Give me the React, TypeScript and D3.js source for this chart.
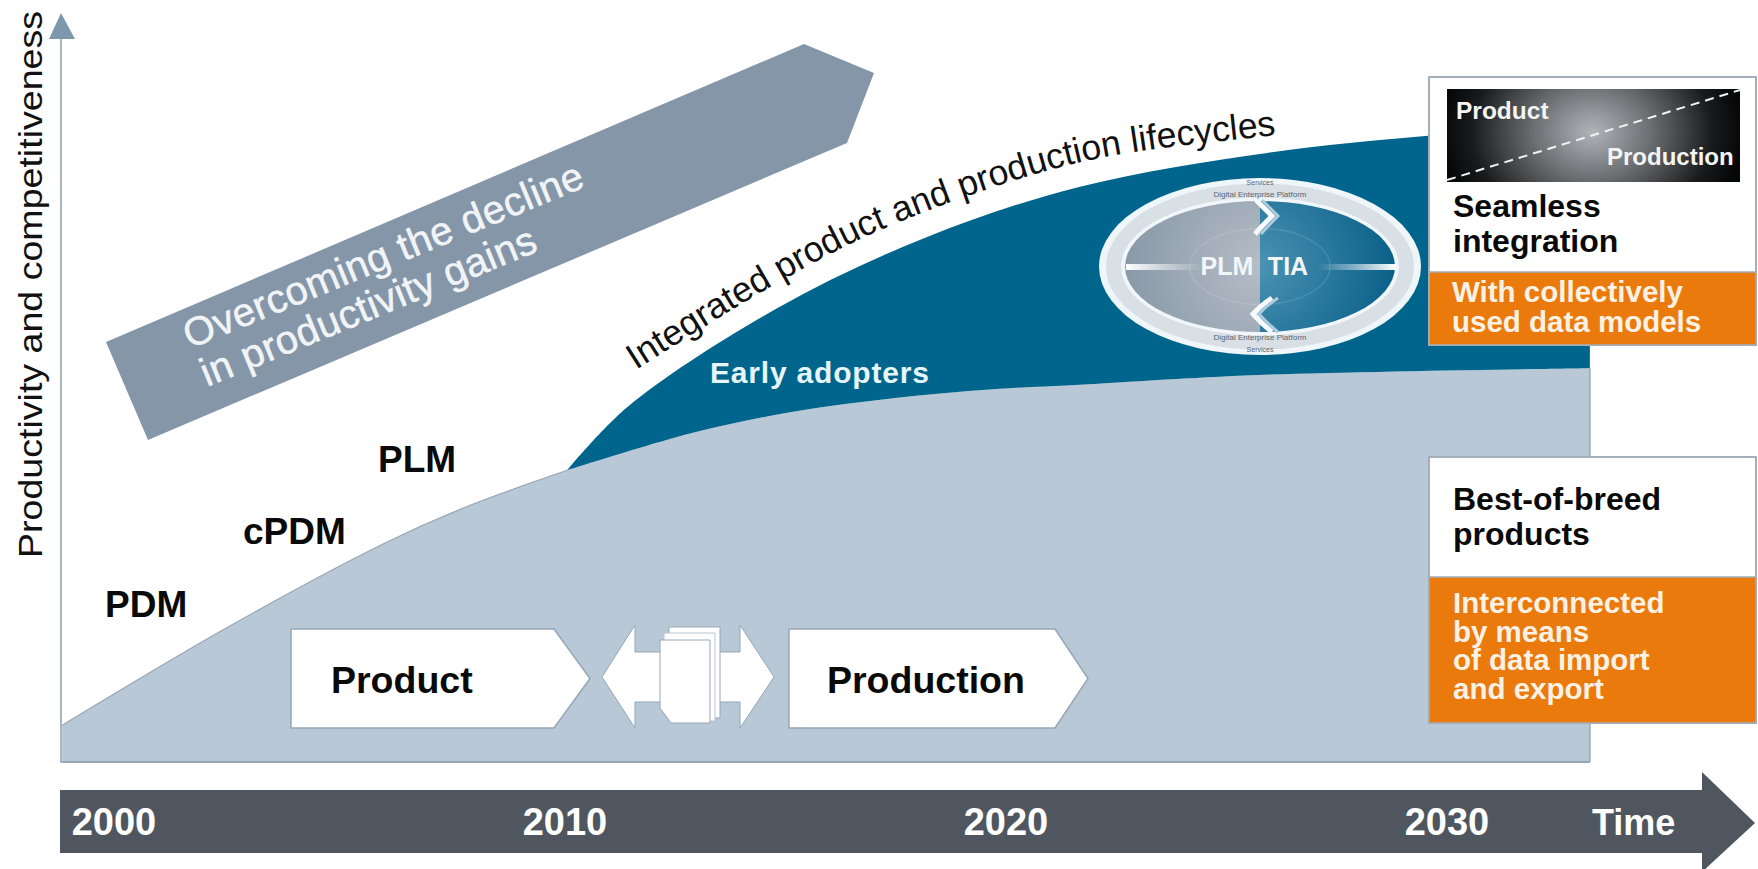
import React from "react";
import * as d3 from "d3";

const WIDTH = 1758;
const HEIGHT = 869;
const FONT = "'Liberation Sans', Arial, sans-serif";

// Time axis ticks and the productivity curves (year, index 0-100).
const timeTicks = [2000, 2010, 2020, 2030];
const baselineYears = [1998.85, 2002.53, 2006.01, 2007.8, 2010.05, 2012.9, 2015.17, 2017.44, 2019.71, 2021.68, 2025.71, 2033.24];
const baselineValues = [4.9, 18, 29.2, 34, 38.9, 43.9, 46.7, 48.5, 49.7, 50.3, 51.6, 52.5];
const integratedYears = [2010.05, 2011.41, 2014.81, 2018.21, 2021.68, 2025.92, 2029.57, 2033.24];
const integratedValues = [38.9, 47.3, 60.5, 70, 76.7, 81.2, 83.5, 84.9];
const captionYears = [2011.54, 2014.65, 2017.26, 2021.63, 2026.1, 2027.5];
const captionValues = [52, 63.3, 71.2, 79.9, 83.6, 84.6];

const generations = [
  { label: "PDM", x: 105, y: 617 },
  { label: "cPDM", x: 243, y: 544 },
  { label: "PLM", x: 378, y: 472 },
];

const COLORS = {
  base: "#B8C8D6",
  baseEdge: "#97A6B4",
  teal: "#00658C",
  orange: "#EB7A0D",
  dark: "#50565F",
  slate: "#8496A8",
  axis: "#7F97AD",
  ink: "#0A0A0A",
};

const x = d3.scaleLinear().domain(timeTicks).range([114, 565, 1006, 1447]);
const y = d3.scaleLinear().domain([0, 100]).range([762, 12]);

type Pt = [number, number];
const zip = (xs: number[], ys: number[]): Pt[] => xs.map((v, i) => [v, ys[i]]);
const baseline = zip(baselineYears, baselineValues);
const integrated = zip(integratedYears, integratedValues);
const caption = zip(captionYears, captionValues);

const curve = d3.line<Pt>().x((d) => x(d[0])).y((d) => y(d[1])).curve(d3.curveCatmullRom.alpha(0.5));
const baseArea = d3.area<Pt>().x((d) => x(d[0])).y0(y(0)).y1((d) => y(d[1])).curve(d3.curveCatmullRom.alpha(0.5));

const poly = (pts: Pt[]) => d3.line()(pts) + "Z";
// The band between the two curves: along the integrated curve, back along the baseline.
const bandPath = curve(integrated) + "L" + curve([...baseline.filter((d) => d[0] >= 2010.05)].reverse())!.slice(1) + "Z";

const Label = ({ x: lx, y: ly, size, fill = COLORS.ink, weight = 700, children }: any) => (
  <text x={lx} y={ly} fontSize={size} fontWeight={weight} fill={fill} fontFamily={FONT}>{children}</text>
);

const Pentagon = ({ left, right, tip, top, bottom, label, textX }: any) => (
  <g>
    <path d={poly([[left, top], [right, top], [tip, (top + bottom) / 2], [right, bottom], [left, bottom]])} fill="#FFFFFF" stroke="#97A6B4" strokeWidth={1.5} />
    <Label x={textX} y={693} size={37.5}>{label}</Label>
  </g>
);

// Lens badge with the PLM and TIA halves.
const Lens = () => {
  const cx = 1260, cy = 266.5;
  const rx = 135, ry = 65.5;
  const leftHalf = `M${cx},${cy - ry}A${rx},${ry} 0 0 0 ${cx},${cy + ry}Z`;
  const rightHalf = `M${cx},${cy - ry}A${rx},${ry} 0 0 1 ${cx},${cy + ry}Z`;
  return (
    <g>
      <ellipse cx={cx} cy={cy} rx={161} ry={88.5} fill="#EEF6FA" />
      <ellipse cx={cx} cy={cy} rx={154} ry={83} fill="#D8DFE5" />
      <ellipse cx={cx} cy={cy} rx={139} ry={69} fill="#F0F6FA" />
      <path d={leftHalf} fill="url(#plmFill)" />
      <path d={rightHalf} fill="url(#tiaFill)" />
      <ellipse cx={cx} cy={cy} rx={70} ry={38} fill="none" stroke="#FFFFFF" strokeOpacity={0.12} strokeWidth={1.5} />
      <rect x={1126} y={264} width={76} height={6} fill="url(#spokeLeft)" />
      <rect x={1318} y={264} width={78} height={6} fill="url(#spokeRight)" />
      <path d="M1256,200Q1268,212 1272,216Q1262,226 1255,234" fill="none" stroke="#F4FAFD" strokeWidth={5} />
      <path d="M1262,200Q1274,212 1278,216Q1268,226 1261,234" fill="none" stroke="#AFCBDC" strokeWidth={3} />
      <path d="M1272,298Q1260,306 1253,314Q1262,324 1272,332" fill="none" stroke="#F4FAFD" strokeWidth={5} />
      <path d="M1278,298Q1266,306 1259,314Q1268,324 1278,332" fill="none" stroke="#AFCBDC" strokeWidth={3} />
      <text x={1227} y={275} textAnchor="middle" fontSize={25} fontWeight={700} fill="#F2F6F9" fontFamily={FONT}>PLM</text>
      <text x={1288} y={275} textAnchor="middle" fontSize={25} fontWeight={700} fill="#F2F6F9" fontFamily={FONT}>TIA</text>
      <g textAnchor="middle" fontFamily={FONT} fill="#5B6670">
        <text x={cx} y={185} fontSize={7}>Services</text>
        <text x={cx} y={197} fontSize={8}>Digital Enterprise Platform</text>
        <text x={cx} y={340} fontSize={8}>Digital Enterprise Platform</text>
        <text x={cx} y={352} fontSize={7}>Services</text>
      </g>
    </g>
  );
};

export default function App() {
  const slateLines = [
    { text: "Overcoming the decline", x: 190, y: 349 },
    { text: "in productivity gains", x: 207, y: 387 },
  ];
  return (
    <svg width={WIDTH} height={HEIGHT} viewBox={`0 0 ${WIDTH} ${HEIGHT}`} style={{ position: "absolute", left: 0, top: 0, display: "block", background: "#FFFFFF" }}>
      <defs>
        <path id="captionCurve" d={curve(caption)!} />
        <radialGradient id="blend" gradientUnits="userSpaceOnUse" cx={0} cy={0} r={1} gradientTransform="translate(1592 132) scale(150 120)">
          <stop offset="0" stopColor="#B0B4B8" />
          <stop offset="0.4" stopColor="#6A6D70" />
          <stop offset="0.8" stopColor="#1A1B1C" />
          <stop offset="1" stopColor="#060708" />
        </radialGradient>
        <radialGradient id="plmFill" gradientUnits="userSpaceOnUse" cx={1260} cy={266} r={135}>
          <stop offset="0" stopColor="#B6BEC7" />
          <stop offset="1" stopColor="#8999A8" />
        </radialGradient>
        <radialGradient id="tiaFill" gradientUnits="userSpaceOnUse" cx={1260} cy={266} r={135}>
          <stop offset="0" stopColor="#4A93B3" />
          <stop offset="1" stopColor="#0B6089" />
        </radialGradient>
        <linearGradient id="spokeLeft">
          <stop offset="0" stopColor="#FFFFFF" />
          <stop offset="1" stopColor="#FFFFFF" stopOpacity={0} />
        </linearGradient>
        <linearGradient id="spokeRight">
          <stop offset="0" stopColor="#FFFFFF" stopOpacity={0} />
          <stop offset="1" stopColor="#FFFFFF" />
        </linearGradient>
      </defs>

      {/* Vertical axis */}
      <line x1={61} x2={61} y1={38} y2={763} stroke="#A6B6C5" strokeWidth={2} />
      <path d={poly([[61, 13], [75, 39], [49, 39]])} fill={COLORS.axis} />
      <text transform="translate(42,558) rotate(-90)" fontSize={33} textLength={547} lengthAdjust="spacingAndGlyphs" fill="#111111" fontFamily={FONT}>
        Productivity and competitiveness
      </text>

      {/* Slate trend arrow */}
      <path d={poly([[106, 342], [804, 44], [874, 73], [847, 143], [148, 440]])} fill={COLORS.slate} />
      {slateLines.map((l) => (
        <text key={l.text} transform={`translate(${l.x},${l.y}) rotate(-22.3)`} fontSize={40} letterSpacing={0.4} fill="#F1F4F6" stroke="#F1F4F6" strokeWidth={0.5} fontFamily={FONT}>{l.text}</text>
      ))}

      {/* Productivity areas */}
      <path d={baseArea(baseline)!} fill={COLORS.base} />
      <path d={curve(baseline.filter((d) => d[0] <= 2010.05))!} fill="none" stroke={COLORS.baseEdge} strokeWidth={1.2} />
      <path d={bandPath} fill={COLORS.teal} />
      <line x1={x(baselineYears[0])} x2={x(2033.24)} y1={y(0)} y2={y(0)} stroke={COLORS.baseEdge} strokeWidth={2} />
      <line x1={x(2033.24)} x2={x(2033.24)} y1={y(52.5)} y2={y(0)} stroke={COLORS.baseEdge} strokeWidth={1.5} />

      <text fontSize={35.7} fill="#111111" fontFamily={FONT}>
        <textPath href="#captionCurve" startOffset={4}>Integrated product and production lifecycles</textPath>
      </text>
      <text x={710} y={383} fontSize={30} fontWeight={700} letterSpacing={0.8} fill="#E6F6FA" fontFamily={FONT}>Early adopters</text>

      {generations.map((g) => (
        <Label key={g.label} x={g.x} y={g.y} size={37}>{g.label}</Label>
      ))}

      <Lens />

      {/* Product and production hand-over */}
      <Pentagon left={291} right={554} tip={590} top={629} bottom={728} label="Product" textX={331} />
      <path d={poly([[602, 677], [635, 625], [635, 652], [740, 652], [740, 625], [774, 677], [740, 728], [740, 702], [635, 702], [635, 728]])} fill="#FFFFFF" stroke="#97A6B4" strokeWidth={1} />
      <path d={poly([[669, 627], [720, 627], [720, 718], [676, 718], [669, 708]])} fill="#FFFFFF" stroke="#97A6B4" strokeWidth={1} />
      <path d={poly([[664, 633], [715, 633], [715, 721], [672, 721], [664, 711]])} fill="#FFFFFF" stroke="#B9C4CE" strokeWidth={1} />
      <path d={poly([[660, 640], [710, 640], [710, 723], [671, 723], [660, 708]])} fill="#FFFFFF" stroke="#97A6B4" strokeWidth={1} />
      <Pentagon left={789} right={1055} tip={1088} top={629} bottom={728} label="Production" textX={827} />

      {/* Integrated approach panel */}
      <rect x={1429} y={77} width={327} height={268} fill="#FFFFFF" stroke="#A3AFBA" strokeWidth={2} />
      <rect x={1447} y={89} width={293} height={93} fill="url(#blend)" />
      <line x1={1447} y1={180} x2={1740} y2={90} stroke="#F2F2F2" strokeWidth={2} strokeDasharray="9 6" />
      <Label x={1456} y={119} size={24.5} fill="#F4F4F4">Product</Label>
      <Label x={1607} y={165} size={24} fill="#F4F4F4">Production</Label>
      <Label x={1453} y={217} size={32}>Seamless</Label>
      <Label x={1453} y={252} size={32}>integration</Label>
      <rect x={1429} y={272} width={327} height={73} fill={COLORS.orange} stroke="#A3AFBA" strokeWidth={1.5} />
      <Label x={1452} y={302} size={29.5} fill="#FBF1E4">With collectively</Label>
      <Label x={1452} y={332} size={29.5} fill="#FBF1E4">used data models</Label>

      {/* Conventional approach panel */}
      <rect x={1429} y={457} width={327} height={266} fill="#FFFFFF" stroke="#A3AFBA" strokeWidth={2} />
      <Label x={1453} y={510} size={32}>Best-of-breed</Label>
      <Label x={1453} y={545} size={32}>products</Label>
      <rect x={1429} y={577} width={327} height={146} fill={COLORS.orange} stroke="#A3AFBA" strokeWidth={1.5} />
      {["Interconnected", "by means", "of data import", "and export"].map((t, i) => (
        <Label key={t} x={1453} y={613 + i * 28.7} size={29.5} fill="#FBF1E4">{t}</Label>
      ))}

      {/* Time arrow */}
      <path d={poly([[60, 790], [1702, 790], [1702, 772], [1755, 823], [1702, 872], [1702, 853], [60, 853]])} fill={COLORS.dark} />
      {timeTicks.map((t) => (
        <text key={t} x={x(t)} y={835} textAnchor="middle" fontSize={38} fontWeight={700} fill="#FFFFFF" fontFamily={FONT}>{t}</text>
      ))}
      <text x={1592} y={835} fontSize={36} fontWeight={700} fill="#FFFFFF" fontFamily={FONT}>Time</text>
    </svg>
  );
}
